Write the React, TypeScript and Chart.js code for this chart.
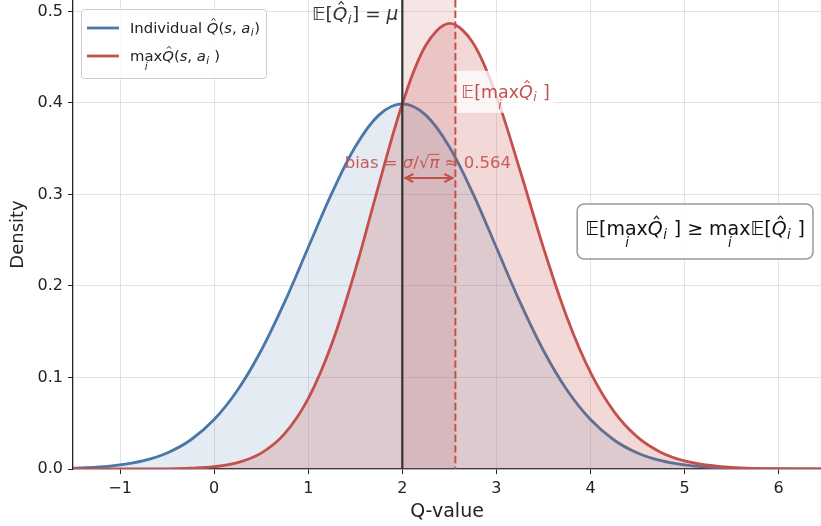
import React, { useEffect, useRef } from 'react';
import { Chart, registerables } from 'chart.js';

Chart.register(...registerables);

// Q-value grid and the two densities sampled on it
const qValues = [
  -1.5, -1.25, -1, -0.75, -0.5, -0.25, 0, 0.25, 0.5, 0.75, 1, 1.25, 1.5, 1.75, 2, 2.25, 2.5,
  2.75, 3, 3.25, 3.5, 3.75, 4, 4.25, 4.5, 4.75, 5, 5.25, 5.5, 5.75, 6, 6.25, 6.5,
];
const individualDensity = [
  0.0009, 0.002, 0.0044, 0.0091, 0.0175, 0.0317, 0.054, 0.0863, 0.1295, 0.1826, 0.242, 0.3011,
  0.3521, 0.3867, 0.3989, 0.3867, 0.3521, 0.3011, 0.242, 0.1826, 0.1295, 0.0863, 0.054, 0.0317,
  0.0175, 0.0091, 0.0044, 0.002, 0.0009, 0.0004, 0.0001, 0.0001, 0.0,
];
const maxDensity = [
  0.0, 0.0, 0.0, 0.0001, 0.0002, 0.0008, 0.0025, 0.0069, 0.0173, 0.0386, 0.0768, 0.1365, 0.2173,
  0.3103, 0.3989, 0.463, 0.4869, 0.4658, 0.4072, 0.3267, 0.2417, 0.1656, 0.1055, 0.0627, 0.0348,
  0.0181, 0.0088, 0.0041, 0.0017, 0.0007, 0.0003, 0.0001, 0.0,
];

const X_MIN = -1.5;
const X_MAX = 6.45;
const Y_MAX = 0.5125;
const MU = 2;
const BIAS = 0.564;
const ARROW_Y = 0.318;

const BLUE = '#4877a9';
const RED = '#c4504e';
const INK = '#222222';
const FONT = '"DejaVu Sans", sans-serif';

type Piece = { t: string; it?: boolean; hat?: boolean; sub?: string; under?: string; bar?: boolean };

const fontOf = (size: number, it?: boolean) => `${it ? 'italic ' : ''}${size}px ${FONT}`;

function pieceWidth(ctx: CanvasRenderingContext2D, p: Piece, size: number) {
  ctx.font = fontOf(size, p.it);
  let w = ctx.measureText(p.t).width;
  if (p.sub) {
    ctx.font = fontOf(size * 0.7, true);
    w += ctx.measureText(p.sub).width + size * 0.06;
  }
  return w;
}

function mathWidth(ctx: CanvasRenderingContext2D, pieces: Piece[], size: number) {
  return pieces.reduce((s, p) => s + pieceWidth(ctx, p, size), 0);
}

// Small mathtext-style renderer: italics, hats, subscripts, limits under "max", overbars
function drawMath(
  ctx: CanvasRenderingContext2D,
  pieces: Piece[],
  x: number,
  y: number,
  size: number,
  color: string,
  align: 'left' | 'center' | 'right',
) {
  const total = mathWidth(ctx, pieces, size);
  let cx = align === 'left' ? x : align === 'center' ? x - total / 2 : x - total;
  const start = cx;
  ctx.save();
  ctx.fillStyle = color;
  ctx.strokeStyle = color;
  ctx.textBaseline = 'alphabetic';
  ctx.textAlign = 'left';
  for (const p of pieces) {
    ctx.font = fontOf(size, p.it);
    const w = ctx.measureText(p.t).width;
    ctx.fillText(p.t, cx, y);
    if (p.hat) {
      const hx = cx + w * 0.58;
      const base = y - size * 0.8;
      ctx.lineWidth = Math.max(1, size * 0.06);
      ctx.beginPath();
      ctx.moveTo(hx - size * 0.14, base - size * 0.04);
      ctx.lineTo(hx, base - size * 0.19);
      ctx.lineTo(hx + size * 0.14, base - size * 0.04);
      ctx.stroke();
    }
    if (p.bar) {
      ctx.lineWidth = Math.max(1, size * 0.06);
      ctx.beginPath();
      ctx.moveTo(cx - size * 0.05, y - size * 0.82);
      ctx.lineTo(cx + w, y - size * 0.82);
      ctx.stroke();
    }
    if (p.under) {
      ctx.font = fontOf(size * 0.7, true);
      ctx.textAlign = 'center';
      ctx.fillText(p.under, cx + w / 2, y + size * 0.62);
      ctx.textAlign = 'left';
    }
    let adv = w;
    if (p.sub) {
      ctx.font = fontOf(size * 0.7, true);
      ctx.fillText(p.sub, cx + w + size * 0.02, y + size * 0.2);
      adv += ctx.measureText(p.sub).width + size * 0.06;
    }
    cx += adv;
  }
  ctx.restore();
  return { left: start, right: start + total };
}

function roundRect(ctx: CanvasRenderingContext2D, x: number, y: number, w: number, h: number, r: number) {
  ctx.beginPath();
  ctx.moveTo(x + r, y);
  ctx.lineTo(x + w - r, y);
  ctx.arcTo(x + w, y, x + w, y + r, r);
  ctx.lineTo(x + w, y + h - r);
  ctx.arcTo(x + w, y + h, x + w - r, y + h, r);
  ctx.lineTo(x + r, y + h);
  ctx.arcTo(x, y + h, x, y + h - r, r);
  ctx.lineTo(x, y + r);
  ctx.arcTo(x, y, x + r, y, r);
  ctx.closePath();
}

const muLabel: Piece[] = [
  { t: '𝔼' }, { t: '[' }, { t: 'Q', it: true, hat: true, sub: 'i' }, { t: '] = ' }, { t: 'μ', it: true },
];
const maxMeanLabel: Piece[] = [
  { t: '𝔼' }, { t: '[' }, { t: 'max', under: 'i' }, { t: 'Q', it: true, hat: true, sub: 'i' }, { t: ' ]' },
];
const biasLabel: Piece[] = [
  { t: 'bias = ' }, { t: 'σ', it: true }, { t: '/√' }, { t: 'π', it: true, bar: true }, { t: ' ≈ 0.564' },
];
const inequalityLabel: Piece[] = [
  { t: '𝔼' }, { t: '[' }, { t: 'max', under: 'i' }, { t: 'Q', it: true, hat: true, sub: 'i' }, { t: ' ] ≥ ' },
  { t: 'max', under: 'i' }, { t: '𝔼' }, { t: '[' }, { t: 'Q', it: true, hat: true, sub: 'i' }, { t: ' ]' },
];
const legendIndividual: Piece[] = [
  { t: 'Individual ' }, { t: 'Q', it: true, hat: true }, { t: '(' }, { t: 's', it: true }, { t: ', ' },
  { t: 'a', it: true, sub: 'i' }, { t: ')' },
];
const legendMax: Piece[] = [
  { t: 'max', under: 'i' }, { t: 'Q', it: true, hat: true }, { t: '(' }, { t: 's', it: true }, { t: ', ' },
  { t: 'a', it: true, sub: 'i' }, { t: ' )' },
];

const bandPlugin = {
  id: 'biasBand',
  beforeDatasetsDraw(chart: any) {
    const { ctx, chartArea: a, scales } = chart;
    const x0 = scales.x.getPixelForValue(MU);
    const x1 = scales.x.getPixelForValue(MU + BIAS);
    ctx.save();
    ctx.fillStyle = 'rgba(196,80,78,0.15)';
    ctx.fillRect(x0, a.top, x1 - x0, a.bottom - a.top);
    ctx.restore();
  },
};

const annotationPlugin = {
  id: 'annotations',
  afterDatasetsDraw(chart: any) {
    const { ctx, chartArea: a, scales } = chart;
    const px = (v: number) => scales.x.getPixelForValue(v);
    const py = (v: number) => scales.y.getPixelForValue(v);
    const xMu = px(MU);
    const xMax = px(MU + BIAS);

    ctx.save();
    ctx.beginPath();
    ctx.rect(a.left, a.top, a.right - a.left, a.bottom - a.top);
    ctx.clip();

    // mean of a single estimate
    ctx.strokeStyle = '#333333';
    ctx.lineWidth = 2.2;
    ctx.beginPath();
    ctx.moveTo(xMu, a.top);
    ctx.lineTo(xMu, a.bottom);
    ctx.stroke();

    // mean of the maximum
    ctx.strokeStyle = RED;
    ctx.lineWidth = 2;
    ctx.setLineDash([7.4, 3.2]);
    ctx.beginPath();
    ctx.moveTo(xMax, a.top);
    ctx.lineTo(xMax, a.bottom);
    ctx.stroke();
    ctx.setLineDash([]);

    drawMath(ctx, muLabel, xMu - 4, a.top + 20, 18.5, '#333333', 'right');

    // label for the max mean on a translucent white box
    const size2 = 17.5;
    const w2 = mathWidth(ctx, maxMeanLabel, size2);
    const lx = xMax + 6;
    const ly = py(0.41) + 4;
    ctx.fillStyle = 'rgba(255,255,255,0.75)';
    ctx.fillRect(lx - 4, ly - 27, w2 + 8, 42);
    drawMath(ctx, maxMeanLabel, lx, ly, size2, RED, 'left');

    // bias arrow
    const ay = py(ARROW_Y);
    const ax0 = xMu + 3;
    const ax1 = xMax - 3;
    ctx.strokeStyle = RED;
    ctx.lineWidth = 2;
    ctx.beginPath();
    ctx.moveTo(ax0, ay);
    ctx.lineTo(ax1, ay);
    ctx.moveTo(ax0 + 8, ay - 4);
    ctx.lineTo(ax0, ay);
    ctx.lineTo(ax0 + 8, ay + 4);
    ctx.moveTo(ax1 - 8, ay - 4);
    ctx.lineTo(ax1, ay);
    ctx.lineTo(ax1 - 8, ay + 4);
    ctx.stroke();

    drawMath(ctx, biasLabel, px(MU + BIAS / 2) - 1, py(0.329), 16.5, 'rgba(196,80,78,0.92)', 'center');

    // inequality box
    const size3 = 19;
    const w3 = mathWidth(ctx, inequalityLabel, size3);
    const boxRight = a.right - 8;
    const boxW = w3 + 16;
    const boxTop = 204;
    const boxH = 55;
    ctx.fillStyle = 'rgba(255,255,255,0.95)';
    ctx.strokeStyle = '#999999';
    ctx.lineWidth = 1.5;
    roundRect(ctx, boxRight - boxW, boxTop, boxW, boxH, 7);
    ctx.fill();
    ctx.stroke();
    drawMath(ctx, inequalityLabel, boxRight - boxW / 2, boxTop + 31, size3, '#111111', 'center');

    // legend
    const lgX = 81;
    const lgY = 9;
    ctx.fillStyle = 'rgba(255,255,255,0.85)';
    ctx.strokeStyle = '#cccccc';
    ctx.lineWidth = 1;
    roundRect(ctx, lgX + 0.5, lgY + 0.5, 185, 69, 3);
    ctx.fill();
    ctx.stroke();
    ctx.lineWidth = 2.8;
    ctx.strokeStyle = BLUE;
    ctx.beginPath();
    ctx.moveTo(lgX + 6, 28);
    ctx.lineTo(lgX + 38, 28);
    ctx.stroke();
    ctx.strokeStyle = RED;
    ctx.beginPath();
    ctx.moveTo(lgX + 6, 56);
    ctx.lineTo(lgX + 38, 56);
    ctx.stroke();
    drawMath(ctx, legendIndividual, lgX + 49, 33, 14.8, INK, 'left');
    drawMath(ctx, legendMax, lgX + 49, 61, 14.8, INK, 'left');

    ctx.restore();
  },
};

export default function App() {
  const canvasRef = useRef<HTMLCanvasElement | null>(null);

  useEffect(() => {
    document.body.style.margin = '0';
    const canvas = canvasRef.current;
    if (!canvas) return;

    const toPoints = (ys: number[]) => qValues.map((x, i) => ({ x, y: ys[i] }));

    const chart = new Chart(canvas, {
      type: 'line',
      data: {
        datasets: [
          {
            label: 'max',
            data: toPoints(maxDensity),
            borderColor: RED,
            backgroundColor: 'rgba(196,80,78,0.22)',
            borderWidth: 2.8,
            pointRadius: 0,
            fill: 'origin',
            tension: 0.35,
            order: 1,
          },
          {
            label: 'individual',
            data: toPoints(individualDensity),
            borderColor: BLUE,
            backgroundColor: 'rgba(72,119,169,0.15)',
            borderWidth: 2.8,
            pointRadius: 0,
            fill: 'origin',
            tension: 0.35,
            order: 2,
          },
        ],
      },
      options: {
        responsive: false,
        animation: false,
        layout: { padding: 0 },
        plugins: {
          legend: { display: false },
          tooltip: { enabled: false },
        },
        scales: {
          x: {
            type: 'linear',
            min: X_MIN,
            max: X_MAX,
            afterFit(scale: any) {
              scale.height = 57;
              scale.paddingLeft = 0;
              scale.paddingRight = 0;
            },
            ticks: {
              stepSize: 1,
              includeBounds: false,
              autoSkip: false,
              maxRotation: 0,
              padding: 5,
              color: INK,
              font: { family: FONT, size: 16 },
              callback: (v: any) => (Number(v) < 0 ? '\u2212' + Math.abs(Number(v)) : String(v)),
            },
            grid: {
              color: 'rgba(176,176,176,0.35)',
              tickColor: INK,
              tickLength: 5,
              lineWidth: 1,
            },
            border: { color: INK, width: 1.3 },
            title: {
              display: true,
              text: 'Q-value',
              color: INK,
              font: { family: FONT, size: 19 },
              padding: { top: 0, bottom: 3 },
            },
          },
          y: {
            min: 0,
            max: Y_MAX,
            afterFit(scale: any) {
              scale.width = 73;
              scale.paddingTop = 0;
              scale.paddingBottom = 0;
            },
            ticks: {
              stepSize: 0.1,
              includeBounds: false,
              padding: 5,
              color: INK,
              font: { family: FONT, size: 16 },
              callback: (v: any) => Number(v).toFixed(1),
            },
            grid: {
              color: 'rgba(176,176,176,0.35)',
              tickColor: INK,
              tickLength: 5,
              lineWidth: 1,
            },
            border: { color: INK, width: 1.3 },
            title: {
              display: true,
              text: 'Density',
              color: INK,
              font: { family: FONT, size: 18 },
              padding: { top: 8, bottom: 0 },
            },
          },
        },
      },
      plugins: [bandPlugin, annotationPlugin],
    } as any);

    return () => chart.destroy();
  }, []);

  return (
    <div style={{ width: 821, height: 526 }}>
      <canvas ref={canvasRef} width={821} height={526} style={{ display: 'block' }} />
    </div>
  );
}
